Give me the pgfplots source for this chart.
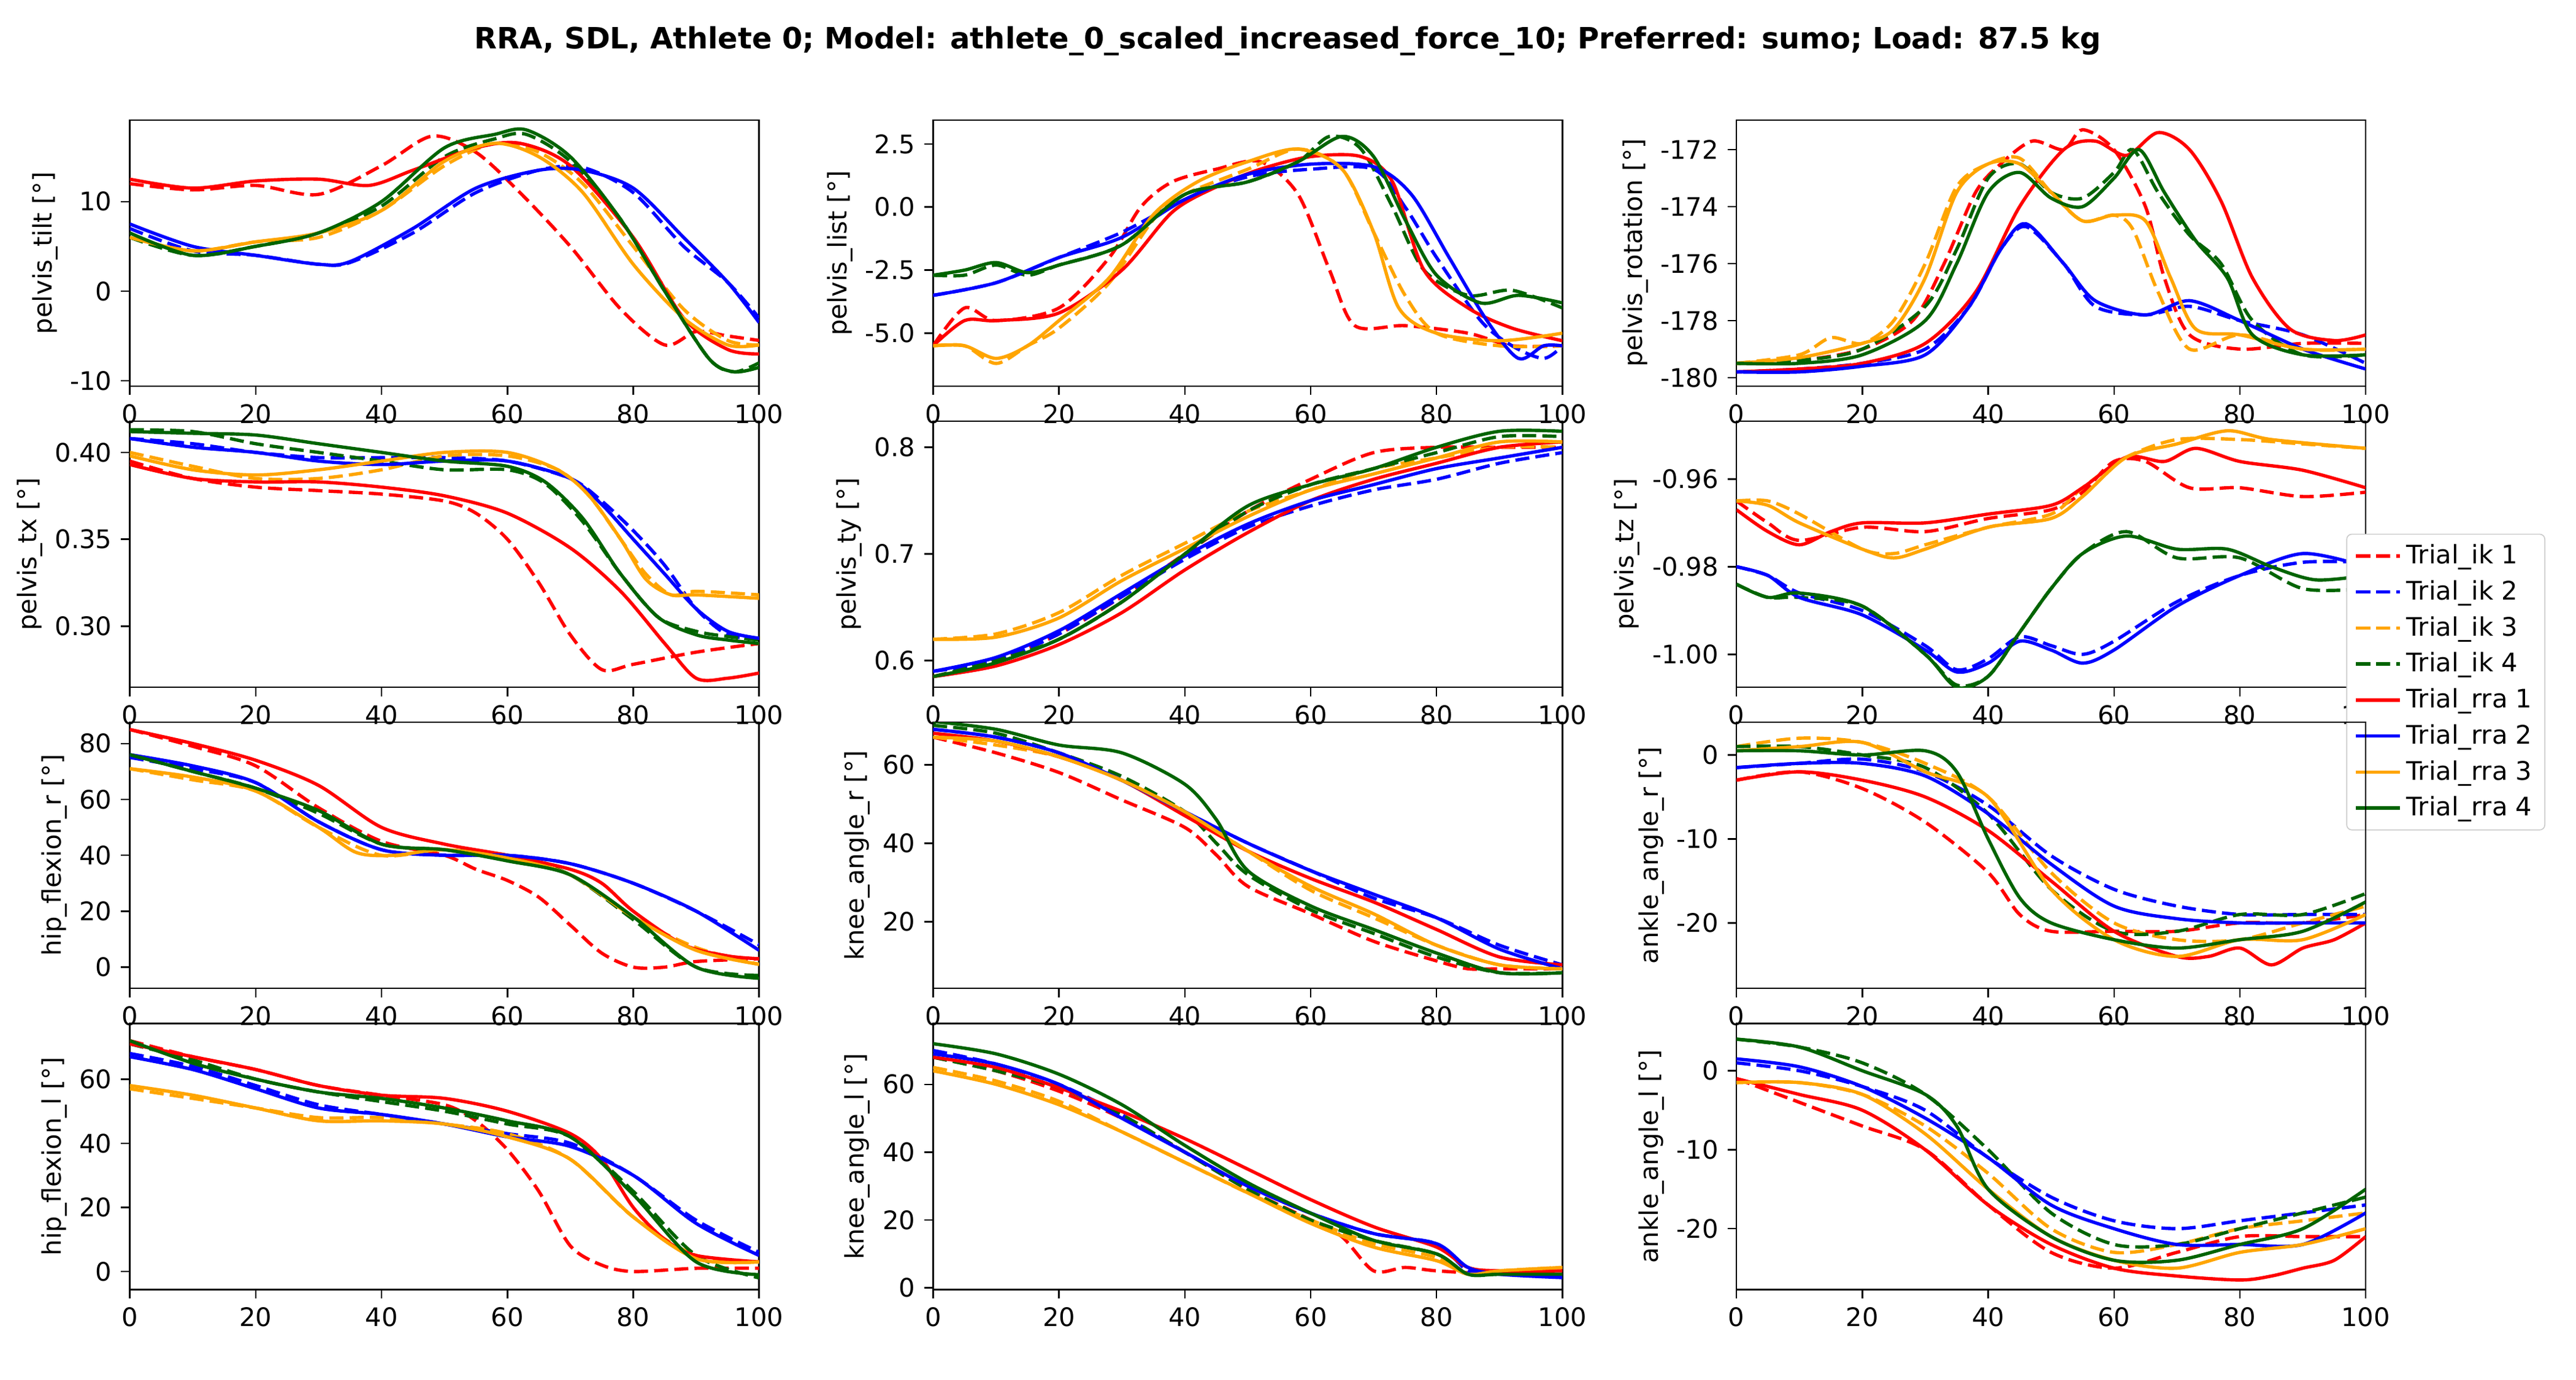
\documentclass[border=0pt]{standalone}
\usepackage{fontspec}
\setmainfont{DejaVu Sans}
\usepackage{pgfplots}
\pgfplotsset{compat=1.18}
\definecolor{mpor}{rgb}{1,0.647,0}
\definecolor{mpgr}{rgb}{0,0.392,0}
\tikzset{
 ika/.style={red,dash pattern=on 5.5pt off 2.4pt},
 ikb/.style={blue,dash pattern=on 5.5pt off 2.4pt},
 ikc/.style={mpor,dash pattern=on 5.5pt off 2.4pt},
 ikd/.style={mpgr,dash pattern=on 5.5pt off 2.4pt},
 ra/.style={red}, rb/.style={blue}, rc/.style={mpor}, rd/.style={mpgr}}
\pgfplotsset{base/.style={anchor=north west, scale only axis, width=246.3pt, height=104.2pt,
 xmin=0,xmax=100, xtick={0,20,...,100}, tick align=outside, xtick pos=bottom, ytick pos=left,
 major tick length=3.5pt, tick style={black,line width=0.6pt}, axis line style={line width=0.6pt},
 /pgf/number format/assume math mode=true, tick label style={font=\fontsize{10}{12}\selectfont},
 label style={font=\fontsize{10}{12}\selectfont}, ylabel shift=-2pt,
 every axis plot/.append style={smooth, line width=1.3pt, no markers}}}
\newcommand\Pl[2]{\addplot[#1] coordinates {#2};}
\begin{document}
\begin{tikzpicture}
\path[use as bounding box] (-50.8pt,-493.2pt) rectangle (957.4pt,47pt);
\node[font=\bfseries\fontsize{11.5}{13}\selectfont] at (453.3pt,30.9pt) {RRA, SDL, Athlete 0; Model: athlete\_0\_scaled\_increased\_force\_10; Preferred: sumo; Load: 87.5 kg};
% 1
\begin{axis}[base, at={(0pt,0pt)}, ymin=-10.6, ymax=19.1, ytick={-10,0,10}, ylabel={pelvis\_tilt [°]}]
\Pl{ika}{(0,12)(10,11.3)(20,11.8)(30,10.8)(40,14)(48,17.3)(55,15.5)(62,11)(70,5)(78,-2)(85,-6)(90,-4.5)(95,-5)(100,-5.5)}
\Pl{ikb}{(0,7)(10,4.5)(20,4)(30,3)(35,3.2)(45,6.5)(55,11)(65,13.5)(72,13.8)(80,11)(88,5)(95,1)(100,-3)}
\Pl{ikc}{(0,6)(10,4.5)(20,5.5)(30,6)(40,9)(50,14)(58,16.5)(65,15.5)(72,12)(80,5)(88,-2)(95,-5.5)(100,-6)}
\Pl{ikd}{(0,6)(10,4)(20,5)(30,6.5)(40,9.5)(50,15)(58,17)(63,17.5)(70,14.5)(78,8)(85,0)(92,-7.5)(96,-9)(100,-8)}
\Pl{ra}{(0,12.5)(10,11.5)(20,12.3)(30,12.5)(38,11.8)(45,13.5)(55,16)(62,16.5)(70,14)(80,6)(88,-3)(95,-6.5)(100,-7)}
\Pl{rb}{(0,7.5)(10,5)(20,4)(30,3)(35,3.3)(45,7)(55,11.5)(65,13.5)(72,13.5)(80,11.5)(88,6)(95,1)(100,-3.5)}
\Pl{rc}{(0,6)(10,4.5)(20,5.5)(30,6.5)(40,9)(50,14.5)(58,16.5)(65,15)(72,11)(80,3)(88,-3)(95,-6)(100,-6)}
\Pl{rd}{(0,6.5)(10,4)(20,5)(30,6.5)(40,10)(50,16)(58,17.5)(63,18)(70,15)(78,8)(85,0)(92,-7.5)(96,-9)(100,-8.5)}
\end{axis}
% 2
\begin{axis}[base, at={(314.4pt,0pt)}, ymin=-7.1, ymax=3.45, ytick={-5,-2.5,0,2.5}, yticklabel style={/pgf/number format/.cd,fixed,fixed zerofill,precision=1}, ylabel={pelvis\_list [°]}]
\Pl{ika}{(0,-5.5)(5,-4)(10,-4.5)(20,-4)(28,-2)(33,0)(38,1)(45,1.5)(52,1.8)(58,0.5)(63,-2.5)(67,-4.7)(75,-4.7)(85,-5)(92,-5.5)(100,-5.5)}
\Pl{ikb}{(0,-3.5)(10,-3)(20,-2)(30,-1)(40,0.3)(50,1.2)(60,1.5)(70,1.5)(75,0)(80,-2)(87,-4.5)(92,-5.5)(97,-6)(100,-5.5)}
\Pl{ikc}{(0,-5.5)(5,-5.5)(10,-6.2)(15,-5.5)(20,-4.8)(28,-3)(35,-0.5)(40,0.5)(50,1.5)(58,2.3)(65,1.5)(70,-1)(75,-3.5)(80,-5)(90,-5.5)(100,-5.5)}
\Pl{ikd}{(0,-2.7)(5,-2.7)(10,-2.3)(15,-2.7)(20,-2.3)(30,-1.5)(40,0.5)(50,1)(58,1.8)(63,2.8)(68,2.3)(73,0)(78,-2.5)(85,-3.5)(92,-3.3)(100,-4)}
\Pl{ra}{(0,-5.5)(5,-4.5)(10,-4.5)(20,-4.2)(30,-2.5)(38,-0.2)(45,0.8)(52,1.5)(60,2)(68,2)(73,1)(78,-2.5)(85,-4)(92,-4.8)(100,-5.3)}
\Pl{rb}{(0,-3.5)(10,-3)(20,-2)(30,-1.2)(40,0.3)(50,1.3)(60,1.7)(70,1.6)(76,0.5)(82,-2)(88,-4.5)(93,-6)(97,-5.5)(100,-5.5)}
\Pl{rc}{(0,-5.5)(5,-5.5)(10,-6)(15,-5.5)(20,-4.5)(28,-2.8)(35,-0.3)(42,1)(50,1.8)(58,2.3)(65,1.5)(70,-1)(74,-4)(80,-5)(90,-5.3)(100,-5)}
\Pl{rd}{(0,-2.7)(5,-2.5)(10,-2.2)(15,-2.6)(20,-2.3)(30,-1.5)(40,0.5)(50,1)(58,1.8)(65,2.8)(70,2)(75,-0.5)(80,-2.7)(87,-3.8)(93,-3.5)(100,-3.8)}
\end{axis}
% 3
\begin{axis}[base, at={(628.8pt,0pt)}, ymin=-180.3, ymax=-170.96, ytick={-180,-178,...,-172}, ylabel={pelvis\_rotation [°]}]
\Pl{ika}{(0,-179.5)(10,-179.4)(20,-179)(28,-178)(33,-176)(38,-173.5)(42,-172.5)(47,-171.7)(52,-172)(55,-171.3)(60,-172)(65,-174)(68,-176.5)(72,-178.5)(80,-179)(90,-178.8)(100,-178.8)}
\Pl{ikb}{(0,-179.8)(10,-179.7)(20,-179.5)(30,-179)(37,-177.5)(42,-175.5)(46,-174.7)(52,-176)(57,-177.5)(65,-177.8)(72,-177.5)(80,-178)(90,-178.5)(100,-179.5)}
\Pl{ikc}{(0,-179.5)(10,-179.2)(15,-178.6)(20,-178.8)(25,-178)(30,-176)(35,-173.3)(40,-172.5)(45,-172.3)(50,-173.5)(55,-174.5)(60,-174.3)(63,-174.8)(67,-177)(72,-179)(80,-178.5)(90,-179)(100,-179)}
\Pl{ikd}{(0,-179.5)(10,-179.4)(20,-179)(30,-177.5)(35,-175.5)(40,-173)(45,-172.5)(50,-173.5)(55,-173.7)(60,-172.8)(63,-172)(67,-173.5)(72,-175)(77,-176)(82,-178)(90,-179.2)(100,-179.2)}
\Pl{ra}{(0,-179.8)(10,-179.7)(20,-179.5)(30,-178.8)(38,-177)(45,-174)(52,-172)(57,-171.7)(62,-172.2)(67,-171.4)(72,-172)(77,-173.8)(82,-176.5)(88,-178.3)(95,-178.7)(100,-178.5)}
\Pl{rb}{(0,-179.8)(10,-179.8)(20,-179.6)(30,-179.2)(37,-177.5)(42,-175.5)(46,-174.6)(52,-176)(57,-177.3)(65,-177.8)(72,-177.3)(80,-178)(90,-179)(100,-179.7)}
\Pl{rc}{(0,-179.5)(10,-179.3)(20,-178.8)(25,-178.3)(30,-176.5)(35,-173.5)(40,-172.5)(45,-172.5)(50,-173.5)(55,-174.5)(60,-174.3)(65,-174.5)(69,-176.5)(73,-178.3)(80,-178.5)(90,-179)(100,-179)}
\Pl{rd}{(0,-179.5)(10,-179.5)(20,-179.2)(30,-178)(35,-176)(40,-173.5)(45,-172.8)(50,-173.7)(55,-174)(60,-173)(64,-172)(68,-173.5)(73,-175.2)(78,-176.5)(82,-178.5)(90,-179.2)(100,-179.2)}
\end{axis}
% 4
\begin{axis}[base, at={(0pt,-117.9pt)}, ymin=0.2648, ymax=0.418, ytick={0.30,0.35,0.40}, yticklabel style={/pgf/number format/.cd,fixed,fixed zerofill,precision=2}, ylabel={pelvis\_tx [°]}]
\Pl{ika}{(0,0.395)(10,0.385)(20,0.38)(30,0.378)(40,0.376)(50,0.372)(55,0.365)(60,0.35)(65,0.325)(70,0.295)(75,0.275)(80,0.278)(90,0.285)(100,0.29)}
\Pl{ikb}{(0,0.408)(10,0.405)(20,0.4)(30,0.397)(40,0.397)(50,0.397)(60,0.395)(70,0.385)(75,0.372)(80,0.355)(85,0.335)(90,0.31)(95,0.295)(100,0.293)}
\Pl{ikc}{(0,0.4)(10,0.392)(20,0.385)(30,0.385)(40,0.39)(50,0.398)(60,0.398)(68,0.39)(73,0.375)(78,0.35)(82,0.33)(86,0.318)(90,0.32)(100,0.318)}
\Pl{ikd}{(0,0.413)(10,0.412)(20,0.405)(30,0.4)(40,0.395)(50,0.39)(60,0.39)(66,0.382)(72,0.36)(78,0.33)(84,0.305)(90,0.297)(95,0.294)(100,0.292)}
\Pl{ra}{(0,0.393)(10,0.385)(20,0.383)(30,0.383)(40,0.38)(50,0.375)(60,0.365)(70,0.345)(78,0.32)(85,0.29)(90,0.27)(95,0.27)(100,0.273)}
\Pl{rb}{(0,0.408)(10,0.403)(20,0.4)(30,0.395)(40,0.393)(50,0.395)(60,0.395)(70,0.385)(75,0.37)(80,0.35)(85,0.33)(90,0.31)(95,0.297)(100,0.293)}
\Pl{rc}{(0,0.398)(10,0.39)(20,0.387)(30,0.39)(40,0.395)(50,0.4)(60,0.4)(68,0.39)(73,0.375)(78,0.35)(82,0.327)(86,0.318)(90,0.318)(100,0.316)}
\Pl{rd}{(0,0.412)(10,0.411)(20,0.41)(30,0.405)(40,0.4)(50,0.395)(60,0.392)(66,0.383)(72,0.362)(78,0.33)(84,0.305)(90,0.295)(95,0.292)(100,0.29)}
\end{axis}
% 5
\begin{axis}[base, at={(314.4pt,-117.9pt)}, ymin=0.575, ymax=0.8245, ytick={0.6,0.7,0.8}, yticklabel style={/pgf/number format/.cd,fixed,fixed zerofill,precision=1}, ylabel={pelvis\_ty [°]}]
\Pl{ika}{(0,0.585)(10,0.6)(20,0.625)(30,0.66)(40,0.7)(50,0.74)(60,0.77)(70,0.795)(80,0.8)(90,0.8)(100,0.8)}
\Pl{ikb}{(0,0.59)(10,0.6)(20,0.625)(30,0.66)(40,0.695)(50,0.725)(60,0.745)(70,0.76)(80,0.77)(90,0.785)(100,0.795)}
\Pl{ikc}{(0,0.62)(10,0.625)(20,0.645)(30,0.68)(40,0.71)(50,0.74)(60,0.76)(70,0.78)(80,0.79)(90,0.8)(100,0.8)}
\Pl{ikd}{(0,0.585)(10,0.6)(20,0.62)(30,0.655)(40,0.7)(50,0.74)(60,0.765)(70,0.78)(80,0.795)(90,0.81)(100,0.81)}
\Pl{ra}{(0,0.585)(10,0.595)(20,0.615)(30,0.645)(40,0.685)(50,0.72)(60,0.75)(70,0.77)(80,0.785)(90,0.8)(100,0.805)}
\Pl{rb}{(0,0.59)(10,0.603)(20,0.628)(30,0.663)(40,0.698)(50,0.728)(60,0.75)(70,0.765)(80,0.78)(90,0.79)(100,0.8)}
\Pl{rc}{(0,0.62)(10,0.622)(20,0.64)(30,0.675)(40,0.705)(50,0.735)(60,0.76)(70,0.775)(80,0.79)(90,0.805)(100,0.805)}
\Pl{rd}{(0,0.585)(10,0.598)(20,0.62)(30,0.655)(40,0.7)(50,0.745)(60,0.765)(70,0.78)(80,0.8)(90,0.815)(100,0.815)}
\end{axis}
% 6
\begin{axis}[base, at={(628.8pt,-117.9pt)}, ymin=-1.0075, ymax=-0.9468, ytick={-1.00,-0.98,-0.96}, yticklabel style={/pgf/number format/.cd,fixed,fixed zerofill,precision=2}, ylabel={pelvis\_tz [°]},
 legend style={at={(0.969,0.577)}, anchor=north west, draw=black!20, rounded corners=2pt, font=\fontsize{10}{12}\selectfont, row sep=1pt}, legend cell align=left]
\Pl{ika}{(0,-0.965)(5,-0.97)(10,-0.974)(20,-0.971)(30,-0.972)(40,-0.969)(50,-0.967)(55,-0.963)(60,-0.956)(65,-0.956)(72,-0.962)(80,-0.962)(90,-0.964)(100,-0.963)}
\Pl{ikb}{(0,-0.98)(5,-0.982)(10,-0.986)(20,-0.99)(30,-0.998)(35,-1.0035)(40,-1.001)(45,-0.996)(50,-0.998)(55,-1.0)(60,-0.997)(70,-0.988)(80,-0.982)(90,-0.979)(100,-0.979)}
\Pl{ikc}{(0,-0.965)(5,-0.965)(10,-0.968)(20,-0.976)(25,-0.977)(30,-0.975)(40,-0.971)(50,-0.968)(55,-0.962)(62,-0.955)(70,-0.951)(80,-0.951)(90,-0.952)(100,-0.953)}
\Pl{ikd}{(0,-0.984)(5,-0.987)(10,-0.987)(20,-0.989)(30,-1.0)(35,-1.007)(40,-1.005)(45,-0.995)(50,-0.985)(55,-0.977)(62,-0.972)(70,-0.978)(80,-0.978)(90,-0.985)(100,-0.985)}
\Pl{ra}{(0,-0.967)(5,-0.972)(10,-0.975)(15,-0.972)(20,-0.97)(30,-0.97)(40,-0.968)(50,-0.966)(55,-0.962)(62,-0.955)(68,-0.956)(73,-0.953)(80,-0.956)(90,-0.958)(100,-0.962)}
\Pl{rb}{(0,-0.98)(5,-0.982)(10,-0.987)(20,-0.991)(30,-0.999)(35,-1.004)(40,-1.002)(45,-0.997)(50,-0.999)(55,-1.002)(60,-0.999)(70,-0.989)(80,-0.982)(90,-0.977)(100,-0.98)}
\Pl{rc}{(0,-0.965)(5,-0.966)(10,-0.97)(20,-0.976)(25,-0.978)(30,-0.976)(40,-0.971)(50,-0.969)(55,-0.964)(62,-0.955)(70,-0.952)(78,-0.949)(85,-0.951)(100,-0.953)}
\Pl{rd}{(0,-0.984)(5,-0.987)(10,-0.986)(20,-0.989)(30,-1.0)(35,-1.0075)(40,-1.005)(45,-0.995)(50,-0.985)(55,-0.977)(62,-0.973)(70,-0.976)(78,-0.976)(85,-0.98)(92,-0.983)(100,-0.982)}
\legend{Trial\_ik 1,Trial\_ik 2,Trial\_ik 3,Trial\_ik 4,Trial\_rra 1,Trial\_rra 2,Trial\_rra 3,Trial\_rra 4}
\end{axis}
% 7
\begin{axis}[base, at={(0pt,-235.8pt)}, ymin=-7.6, ymax=87.6, ytick={0,20,...,80}, ylabel={hip\_flexion\_r [°]}]
\Pl{ika}{(0,85)(10,79)(20,72)(30,57)(40,45)(50,40)(55,35)(60,31)(65,25)(70,15)(75,5)(80,0)(85,0)(90,2)(100,3)}
\Pl{ikb}{(0,75)(10,71)(20,66)(30,52)(40,42)(50,40)(60,40)(70,37)(80,30)(90,20)(100,8)}
\Pl{ikc}{(0,71)(10,67)(20,63)(30,50)(40,40)(50,42)(60,39)(70,33)(80,18)(90,7)(100,1)}
\Pl{ikd}{(0,76)(10,70)(20,64)(30,55)(40,44)(50,42)(60,40)(70,33)(80,17)(90,0)(100,-3)}
\Pl{ra}{(0,85)(10,80)(20,74)(30,65)(40,50)(50,44)(60,40)(70,35)(75,30)(80,20)(88,8)(95,4)(100,3)}
\Pl{rb}{(0,76)(10,72)(20,66)(30,52)(40,42)(50,40)(60,40)(70,37)(80,30)(90,20)(100,6)}
\Pl{rc}{(0,71)(10,68)(20,63)(30,50)(36,41)(42,40)(50,42)(60,39)(70,33)(80,18)(90,6)(100,1)}
\Pl{rd}{(0,76)(10,70)(20,64)(30,56)(40,44)(50,42)(60,38)(70,33)(80,18)(90,0)(100,-4)}
\end{axis}
% 8
\begin{axis}[base, at={(314.4pt,-235.8pt)}, ymin=3, ymax=70.8, ytick={20,40,60}, ylabel={knee\_angle\_r [°]}]
\Pl{ika}{(0,67)(10,63)(20,58)(30,51)(40,44)(45,37)(50,29)(60,22)(70,15)(80,10)(85,8)(90,8)(100,8)}
\Pl{ikb}{(0,69)(10,67)(20,63)(30,56)(40,48)(50,40)(60,33)(70,26)(80,21)(90,14)(100,9)}
\Pl{ikc}{(0,67)(10,65)(20,62)(30,56)(40,48)(50,38)(60,28)(70,21)(80,14)(90,9)(100,8)}
\Pl{ikd}{(0,70)(10,68)(20,63)(30,57)(40,48)(45,40)(50,32)(60,23)(70,17)(80,11)(90,7)(100,7)}
\Pl{ra}{(0,68)(10,66)(20,62)(30,56)(40,47)(50,38)(60,31)(70,25)(80,18)(90,11)(100,9)}
\Pl{rb}{(0,69)(10,67)(20,63)(30,56)(40,48)(50,40)(60,33)(70,27)(80,21)(90,13)(100,8)}
\Pl{rc}{(0,67)(10,66)(20,62)(30,56)(40,48)(50,38)(60,29)(70,22)(80,14)(90,9)(100,8)}
\Pl{rd}{(0,71)(10,69)(20,65)(30,63)(40,55)(45,46)(50,33)(60,24)(70,18)(80,12)(90,7)(100,7)}
\end{axis}
% 9
\begin{axis}[base, at={(628.8pt,-235.8pt)}, ymin=-27.8, ymax=3.9, ytick={-20,-10,0}, ylabel={ankle\_angle\_r [°]}]
\Pl{ika}{(0,-3)(10,-2)(20,-4)(30,-8)(40,-14)(45,-19)(50,-21)(60,-21)(70,-21)(80,-20)(90,-20)(100,-19)}
\Pl{ikb}{(0,-1.5)(10,-1)(20,-0.5)(30,-2)(40,-6)(50,-12)(60,-16)(70,-18)(80,-19)(90,-19)(100,-19)}
\Pl{ikc}{(0,1)(10,2)(20,1.5)(30,-1)(40,-5)(50,-14)(60,-20)(70,-22)(80,-22)(90,-20)(100,-18)}
\Pl{ikd}{(0,1)(10,1)(20,0)(30,-1.5)(40,-7)(50,-16)(60,-21)(70,-21)(80,-19)(90,-19)(100,-16.5)}
\Pl{ra}{(0,-3)(10,-2)(20,-3)(30,-5)(40,-9)(50,-15)(60,-21)(70,-24)(75,-24)(80,-23)(85,-25)(90,-23)(95,-22)(100,-20)}
\Pl{rb}{(0,-1.5)(10,-1)(20,-1)(30,-2.5)(40,-7)(50,-13)(60,-18)(70,-19.5)(80,-20)(90,-20)(100,-20)}
\Pl{rc}{(0,0.5)(10,1)(20,1.5)(30,-2)(40,-5)(50,-16)(60,-22)(70,-24)(80,-22)(90,-22)(100,-19)}
\Pl{rd}{(0,0.5)(10,0.5)(20,0)(30,0.5)(35,-2)(40,-10)(45,-17)(50,-20)(60,-22)(70,-23)(80,-22)(90,-21)(100,-17.5)}
\end{axis}
% 10
\begin{axis}[base, at={(0pt,-353.7pt)}, ymin=-5.6, ymax=77.4, ytick={0,20,40,60}, ylabel={hip\_flexion\_l [°]}]
\Pl{ika}{(0,72)(10,67)(20,63)(30,58)(40,55)(50,52)(55,47)(60,38)(65,25)(70,8)(75,2)(80,0)(90,1)(100,1)}
\Pl{ikb}{(0,68)(10,64)(20,58)(30,52)(40,49)(50,46)(60,43)(70,40)(80,30)(90,16)(100,6)}
\Pl{ikc}{(0,57)(10,54)(20,51)(30,48)(40,48)(50,46)(60,43)(70,35)(80,17)(90,5)(100,3)}
\Pl{ikd}{(0,71)(10,66)(20,60)(30,56)(40,53)(50,50)(60,46)(70,42)(80,25)(90,5)(100,-2)}
\Pl{ra}{(0,71)(10,67)(20,63)(30,58)(40,55)(50,54)(60,50)(70,43)(75,35)(80,20)(85,10)(90,5)(100,3)}
\Pl{rb}{(0,67)(10,63)(20,57)(30,51)(40,49)(50,46)(60,42)(70,39)(80,30)(90,15)(100,5)}
\Pl{rc}{(0,58)(10,55)(20,51)(30,47)(40,47)(50,46)(60,42)(70,35)(80,17)(90,4)(100,3)}
\Pl{rd}{(0,72)(10,65)(20,60)(30,56)(40,54)(50,51)(60,47)(70,42)(80,24)(90,3)(100,-1)}
\end{axis}
% 11
\begin{axis}[base, at={(314.4pt,-353.7pt)}, ymin=-0.5, ymax=78, ytick={0,20,40,60}, ylabel={knee\_angle\_l [°]}]
\Pl{ika}{(0,68)(10,64)(20,58)(30,50)(40,40)(50,29)(60,20)(65,15)(70,5)(75,6)(80,5)(90,4)(100,4)}
\Pl{ikb}{(0,70)(10,66)(20,60)(30,51)(40,40)(50,30)(60,22)(70,16)(80,13)(85,5)(90,4)(100,4)}
\Pl{ikc}{(0,65)(10,61)(20,55)(30,46)(40,37)(50,28)(60,20)(70,13)(80,9)(85,4)(90,5)(100,6)}
\Pl{ikd}{(0,68)(10,64)(20,59)(30,51)(40,40)(50,29)(60,20)(70,14)(80,10)(85,4)(90,4)(100,4)}
\Pl{ra}{(0,68)(10,65)(20,59)(30,52)(40,44)(50,35)(60,26)(70,18)(80,12)(85,6)(90,5)(100,5)}
\Pl{rb}{(0,69)(10,66)(20,60)(30,50)(40,40)(50,30)(60,22)(70,16)(80,13)(85,6)(90,4)(100,3)}
\Pl{rc}{(0,64)(10,60)(20,54)(30,46)(40,37)(50,28)(60,19)(70,12)(80,8)(85,4)(90,5)(100,6)}
\Pl{rd}{(0,72)(10,69)(20,63)(30,54)(40,42)(50,31)(60,22)(70,14)(80,10)(85,4)(90,4)(100,4)}
\end{axis}
% 12
\begin{axis}[base, at={(628.8pt,-353.7pt)}, ymin=-27.7, ymax=6.0, ytick={-20,-10,0}, ylabel={ankle\_angle\_l [°]}]
\Pl{ika}{(0,-1)(10,-4)(20,-7)(30,-10)(40,-17)(50,-23)(60,-25)(70,-23)(80,-21)(90,-21)(100,-21)}
\Pl{ikb}{(0,1)(10,0)(20,-2)(30,-5)(40,-11)(50,-16)(60,-19)(70,-20)(80,-19)(90,-18)(100,-17)}
\Pl{ikc}{(0,-1.5)(10,-1.5)(20,-3)(30,-7)(40,-13)(50,-20)(60,-23)(70,-22)(80,-20)(90,-19)(100,-18)}
\Pl{ikd}{(0,4)(10,3)(20,1)(30,-3)(40,-10)(50,-18)(60,-22)(70,-22)(80,-20)(90,-18)(100,-16)}
\Pl{ra}{(0,-1)(10,-3)(20,-5)(30,-10)(40,-17)(50,-22)(60,-25)(70,-26)(80,-26.5)(85,-26)(90,-25)(95,-24)(100,-21)}
\Pl{rb}{(0,1.5)(10,0.5)(20,-2)(30,-6)(40,-11)(50,-17)(60,-20)(70,-22)(80,-22)(90,-22)(100,-18)}
\Pl{rc}{(0,-1.5)(10,-1.5)(20,-3)(30,-8)(40,-15)(50,-21)(60,-24)(70,-25)(80,-23)(90,-22)(100,-20)}
\Pl{rd}{(0,4)(10,3)(20,0)(30,-3)(35,-7)(40,-15)(50,-21)(60,-24)(70,-24)(80,-22)(90,-20)(100,-15)}
\end{axis}
\end{tikzpicture}
\end{document}
